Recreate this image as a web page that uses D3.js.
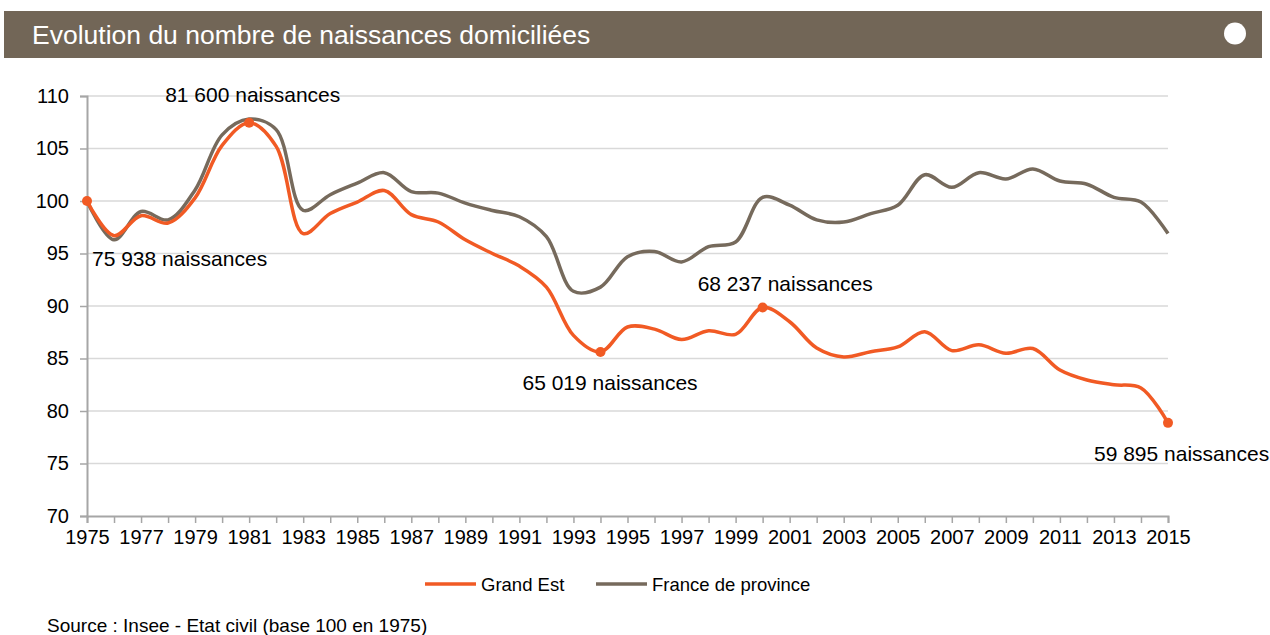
<!DOCTYPE html>
<html>
<head>
<meta charset="utf-8">
<script src="https://cdn.jsdelivr.net/npm/d3@7"></script>
<style>
  body { margin: 0; background: #fff; }
  text { font-family: "Liberation Sans", Arial, sans-serif; }
</style>
</head>
<body>
<svg id="chart" width="1270" height="635"></svg>
<script>
// Données (base 100 en 1975)
const annees = d3.range(1975, 2016);
const grandEst = [100, 96.7, 98.6, 97.9, 100.3, 105.3, 107.46, 105.2, 96.9, 98.8,
  99.9, 101.0, 98.7, 98.0, 96.3, 95.0, 93.8, 91.8, 87.2, 85.62,
  88.0, 87.8, 86.8, 87.65, 87.3, 89.86, 88.5, 86.0, 85.15, 85.65,
  86.1, 87.55, 85.75, 86.3, 85.5, 85.95, 83.9, 82.95, 82.5, 82.2, 78.87];
const franceProvince = [100, 96.3, 99.0, 98.2, 101.05, 106.3, 107.8, 106.8, 99.1, 100.6,
  101.7, 102.7, 100.9, 100.75, 99.8, 99.1, 98.5, 96.6, 91.4, 91.8,
  94.7, 95.2, 94.2, 95.65, 96.1, 100.35, 99.6, 98.2, 98.0, 98.8,
  99.6, 102.5, 101.3, 102.7, 102.1, 103.05, 101.9, 101.6, 100.35, 99.9, 96.9];
const yTicks = [70, 75, 80, 85, 90, 95, 100, 105, 110];
const xLabels = d3.range(1975, 2016, 2);
const pointsCles = [1975, 1981, 1994, 2000, 2015];
const etiquettes = ["75 938 naissances", "81 600 naissances", "65 019 naissances", "68 237 naissances", "59 895 naissances"];

// position des étiquettes par rapport au point
const decalages = [[5, 65], [-84, -21], [-78, 38], [-65, -16], [-74, 38]];

const svg = d3.select("#chart");
const orange = "#F15A24", brun = "#766A5C";

// Bandeau titre
svg.append("rect").attr("x", 4).attr("y", 11).attr("width", 1258).attr("height", 47).attr("fill", "#726657");
svg.append("text").attr("x", 32).attr("y", 44).attr("fill", "#fff")
   .style("font-size", "26.5px").text("Evolution du nombre de naissances domiciliées");
svg.append("circle").attr("cx", 1235).attr("cy", 33.5).attr("r", 11).attr("fill", "#fff");

const x = d3.scaleLinear().domain([1975, 2015]).range([87, 1168]);
const y = d3.scaleLinear().domain([70, 110]).range([516, 96]);

// Grille
svg.append("g").selectAll("line").data(yTicks.filter(d => d > 70)).enter().append("line")
   .attr("x1", x(1975)).attr("x2", x(2015))
   .attr("y1", d => y(d)).attr("y2", d => y(d))
   .attr("stroke", "#D9D9D9").attr("stroke-width", 1.5);

// Axe Y
const gy = svg.append("g").attr("transform", `translate(${x(1975)},0)`)
   .call(d3.axisLeft(y).tickValues(yTicks).tickSize(7).tickPadding(11));
gy.select(".domain").attr("stroke", "#A6A6A6").attr("stroke-width", 2);
gy.selectAll(".tick line").attr("stroke", "#A6A6A6").attr("stroke-width", 1.5);
gy.selectAll("text").style("font-size", "20px").attr("fill", "#000")
   .style("font-family", "Liberation Sans, Arial, sans-serif");

// Axe X
const gx = svg.append("g").attr("transform", `translate(0,${y(70)})`)
   .call(d3.axisBottom(x).tickValues(annees).tickSize(7).tickPadding(7)
     .tickFormat(d => xLabels.includes(d) ? d : ""));
gx.select(".domain").attr("stroke", "#A6A6A6").attr("stroke-width", 2);
gx.selectAll(".tick line").attr("stroke", "#A6A6A6").attr("stroke-width", 1.5);
gx.selectAll("text").style("font-size", "20px").attr("fill", "#000")
   .style("font-family", "Liberation Sans, Arial, sans-serif");

// Courbes
const ligne = d3.line().x((d, i) => x(annees[i])).y(d => y(d)).curve(d3.curveCatmullRom.alpha(0.5));
svg.append("path").datum(franceProvince).attr("d", ligne)
   .attr("fill", "none").attr("stroke", brun).attr("stroke-width", 3.5);
svg.append("path").datum(grandEst).attr("d", ligne)
   .attr("fill", "none").attr("stroke", orange).attr("stroke-width", 3.5);

// Points et étiquettes
const pts = pointsCles.map((a, i) => ({annee: a, val: grandEst[annees.indexOf(a)], txt: etiquettes[i], d: decalages[i]}));
svg.selectAll("circle.pt").data(pts).enter().append("circle").attr("class", "pt")
   .attr("cx", d => x(d.annee)).attr("cy", d => y(d.val)).attr("r", 5).attr("fill", orange);
svg.selectAll("text.lbl").data(pts).enter().append("text").attr("class", "lbl")
   .attr("x", d => x(d.annee) + d.d[0]).attr("y", d => y(d.val) + d.d[1])
   .style("font-size", "21px").attr("fill", "#000").text(d => d.txt);

// Légende
const legende = [{nom: "Grand Est", c: orange, x: 425}, {nom: "France de province", c: brun, x: 596}];
const lg = svg.selectAll("g.leg").data(legende).enter().append("g").attr("class", "leg");
lg.append("line").attr("x1", d => d.x).attr("x2", d => d.x + 51).attr("y1", 584).attr("y2", 584)
  .attr("stroke", d => d.c).attr("stroke-width", 3.5);
lg.append("text").attr("x", d => d.x + 56).attr("y", 590.5).style("font-size", "18.5px").text(d => d.nom);

// Source
svg.append("text").attr("x", 47).attr("y", 632).style("font-size", "19px")
   .text("Source : Insee - Etat civil (base 100 en 1975)");
</script>
</body>
</html>
